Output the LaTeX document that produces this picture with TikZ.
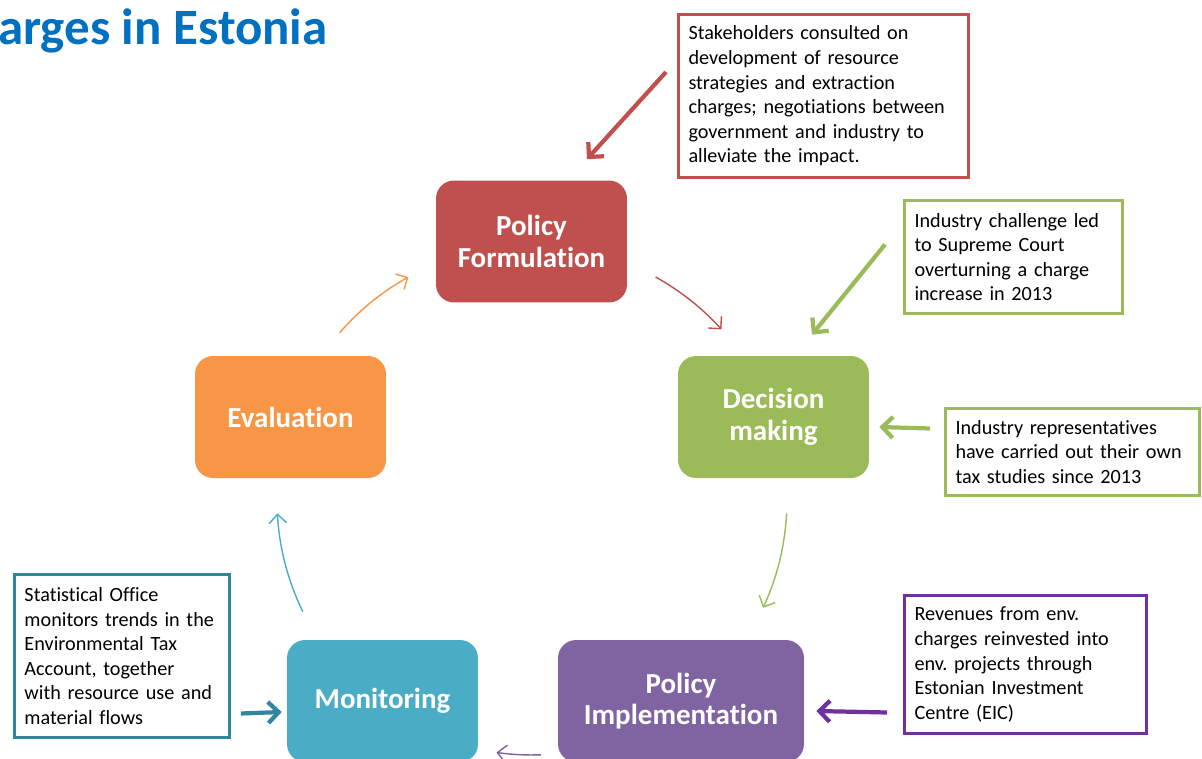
\documentclass[tikz,border=0pt]{standalone}
\usepackage{fontspec}
\setmainfont{Carlito}[Ligatures={NoCommon,NoContextual}]
\usetikzlibrary{arrows.meta,calc}
\definecolor{titleBlue}{HTML}{0070C0}
\definecolor{stRed}{HTML}{C0504D}
\definecolor{stGreen}{HTML}{9BBB59}
\definecolor{stPurple}{HTML}{8064A2}
\definecolor{stTeal}{HTML}{4BACC6}
\definecolor{stOrange}{HTML}{F79646}
\definecolor{noteTeal}{HTML}{31859C}
\definecolor{notePurple}{HTML}{7030A0}
\frenchspacing
\begin{document}
\begin{tikzpicture}[x=0.02cm, y=-0.02cm,
  stage/.style={rounded corners=0.36cm, minimum width=3.82cm, minimum height=2.44cm,
    align=center, text=white, font=\fontsize{16.5}{18.1}\selectfont\bfseries},
  note/.style={draw, line width=1.7pt, fill=white, anchor=north west, align=left,
    inner xsep=0.2cm, font=\fontsize{11.5}{14}\selectfont},
  push/.style={line width=2.4pt, -{Straight Barb[length=6pt,width=12pt]}},
  turn/.style={line width=0.8pt, -{Straight Barb[length=5pt,width=10pt]}}]
  \useasboundingbox (0,0) rectangle (1202,758);
  \node[anchor=base west, text=titleBlue, font=\fontsize{29}{31}\selectfont\bfseries]
    (title) at (-8,44) {arges in Estonia};

  % the five stages of the cycle
  \node[stage, fill=stRed] (formul) at (531.5,241.5) {Policy\\Formulation};
  \node[stage, fill=stGreen] (decide) at (773.5,417) {Decision\\making};
  \node[stage, fill=stPurple, minimum width=4.92cm] (impl) at (681,701) {Policy\\Implementation};
  \node[stage, fill=stTeal] (monit) at (382.5,701) {Monitoring};
  \node[stage, fill=stOrange] (evalu) at (290.5,417) {Evaluation};

  % cycle arrows round the hub
  \coordinate (hub) at (532,500);
  \foreach \a/\b/\c in {61/42/stRed, -3/-25/stGreen, -88/-98/stPurple,
                        206/183/stTeal, 139/119/stOrange}
    \draw[turn, \c] ($(hub)+(\a:5.1cm)$) arc (\a:\b:5.1cm);

  % notes
  \node[note, draw=stRed, text width=5.4cm, minimum height=3.26cm] (consult) at (677,13)
    {Stakeholders consulted on\\development of resource\\strategies and extraction\\charges; negotiations between\\government and industry to\\alleviate the impact.};
  \node[note, draw=stGreen, text width=3.96cm, minimum height=2.26cm] (court) at (903,199)
    {Industry challenge led\\to Supreme Court\\overturning a charge\\increase in 2013};
  \node[note, draw=stGreen, text width=4.68cm, minimum height=1.74cm] (studies) at (944,407)
    {Industry representatives\\have carried out their own\\tax studies since 2013};
  \node[note, draw=notePurple, text width=4.44cm, minimum height=2.76cm] (reinvest) at (903,594)
    {Revenues from env.\\charges reinvested into\\env. projects through\\Estonian Investment\\Centre (EIC)};
  \node[note, draw=noteTeal, text width=3.9cm, minimum height=3.26cm] (statoff) at (13,573)
    {Statistical Office\\monitors trends in the\\Environmental Tax\\Account, together\\with resource use and\\material flows};

  \draw[push, stRed] ($(consult.north west)+(-11,59)$) -- ($(formul.north)+(55.5,-21)$);
  \draw[push, stGreen] ($(court.west)+(-18,-12.5)$) -- ($(decide.north)+(38.5,-21)$);
  \draw[push, stGreen] ($(studies.west)+(-14,-23.5)$) -- ($(decide.east)+(10,10)$);
  \draw[push, notePurple] ($(reinvest.west)+(-16,48)$) -- ($(impl.east)+(12,10)$);
  \draw[push, noteTeal] ($(statoff.east)+(10,57.5)$) -- ($(monit.west)+(-5,11)$);
\end{tikzpicture}
\end{document}
